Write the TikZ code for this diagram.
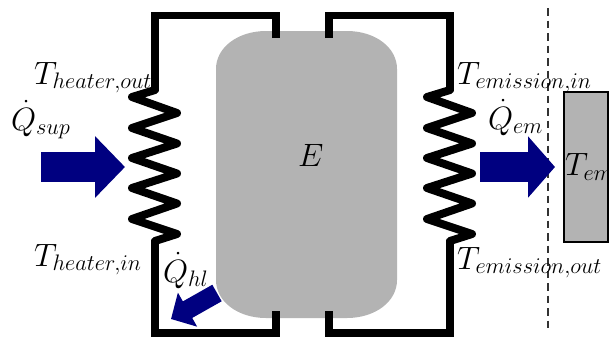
\documentclass[tikz,border=0pt]{standalone}
\usetikzlibrary{arrows.meta}
\tikzset{
  wire/.style={line width=7.5pt,line join=miter,line cap=butt},
  zig/.style={line width=8pt,line join=round,line cap=round},
  bigarrow/.style={draw=arrownavy,line width=30pt,-{Triangle[length=#1,width=60pt,color=arrownavy]}},
  smallarrow/.style={draw=arrownavy,line width=19pt,-{Triangle[length=19pt,width=38pt,color=arrownavy]}},
  lab/.style={anchor=base west,inner sep=0pt,outer sep=0pt,scale=1.87,text=black,font=\LARGE},
  engine/.style={fill=blockgray},
  emitter/.style={fill=blockgray,draw=black,line width=2pt},
  bound/.style={draw=black!80,line width=1.6pt,dash pattern=on 7.5pt off 5pt}
}
\definecolor{arrownavy}{RGB}{0,0,128}
\definecolor{blockgray}{RGB}{179,179,179}
\begin{document}
\begin{tikzpicture}[x=1pt,y=-1pt]
\useasboundingbox (0,0) rectangle (609,338);
% bounds
\coordinate (dashtop) at (548,8);
\coordinate (dashbot) at (548,328);
\draw[bound] (dashtop) -- (dashbot);
% engine block
\path[engine] (266,31) -- (347,31) .. controls (374.6,31) and (397,47) .. (397,69) -- (397,280) .. controls (397,302) and (374.6,318) .. (347,318) -- (266,318) .. controls (238.4,318) and (216,302) .. (216,280) -- (216,69) .. controls (216,47) and (238.4,31) .. (266,31) -- cycle;
% emitter
\draw[emitter] (564,92) rectangle (608,242);
% left circuit
\draw[wire] (276,38) -- (276,15.5) -- (155,15.5) -- (155,91);
\draw[zig] (155,90) -- (132,97) -- (177,113) -- (132,128) -- (177,143.5) -- (132,158) -- (177,173.5) -- (132,188) -- (177,203.5) -- (132,219) -- (177,234) -- (155,241);
\draw[wire] (155,240) -- (155,333) -- (276,333) -- (276,311);
% right circuit
\draw[wire] (329,38) -- (329,15.5) -- (450,15.5) -- (450,91);
\draw[zig] (450,90) -- (427,97) -- (472,113) -- (427,128) -- (472,143.5) -- (427,158) -- (472,173.5) -- (427,188) -- (472,203.5) -- (427,219) -- (472,234) -- (450,241);
\draw[wire] (450,240) -- (450,333) -- (329,333) -- (329,311);
% arrows
\coordinate (supA) at (41,167);
\coordinate (supB) at (125,167);
\draw[bigarrow=30pt] (supA) -- (supB);
\coordinate (emA) at (480,167);
\coordinate (emB) at (555,167);
\draw[bigarrow=27pt] (emA) -- (emB);
\coordinate (hlA) at (217,293);
\coordinate (hlB) at (171,319);
\draw[smallarrow] (hlA) -- (hlB);
% labels
\node[lab] (thout) at (34,84) {$T_{heater,out}$};
\node[lab] (thin) at (34,266) {$T_{heater,in}$};
\node[lab] (qsup) at (11,130) {$\dot{Q}_{sup}$};
\node[lab] (qhl) at (163,282) {$\dot{Q}_{hl}$};
\node[lab] (qem) at (488,129) {$\dot{Q}_{em}$};
\node[lab] (teout) at (457,269) {$T_{emission,out}$};
\node[lab] (tein) at (457,84) {$T_{emission,in}$};
\node[lab] (e) at (298,166) {$E$};
\node[lab] (tem) at (565,175.5) {$T_{em}$};
\end{tikzpicture}
\end{document}
